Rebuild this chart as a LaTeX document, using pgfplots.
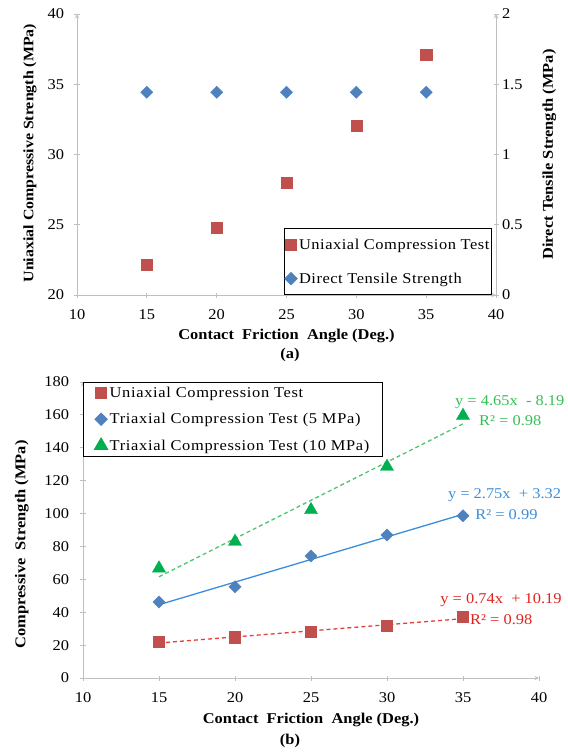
\documentclass[border=0pt]{standalone}
\usepackage{pgfplots}
\pgfplotsset{compat=1.18}
\usepackage{fontspec}
\setmainfont{Liberation Serif}[FakeStretch=1.1]
\newfontfamily\legfont{Liberation Serif}[FakeStretch=1.1, LetterSpace=3.5]
\newfontfamily\legfontb{Liberation Serif}[FakeStretch=1.1, LetterSpace=4.5]

\definecolor{mred}{HTML}{C0504D}
\definecolor{mblue}{HTML}{4F81BD}
\definecolor{mgreen}{HTML}{00B050}
\definecolor{lred}{HTML}{E0413A}
\definecolor{lblue}{HTML}{3A8DDE}
\definecolor{lgreen}{HTML}{4DC46E}
\definecolor{tred}{HTML}{E0231C}
\definecolor{tblue}{HTML}{3C8FDB}
\definecolor{tgreen}{HTML}{35BE57}
\definecolor{axgray}{HTML}{BFBFBF}

\newcommand{\fs}{\fontsize{15}{17}\selectfont}

\pgfplotsset{
  excel/.style={
    scale only axis,
    axis line style={draw=axgray, line width=1bp, -},
    tick align=outside,
    major tick length=5bp,
    tick style={draw=axgray, line width=1bp},
    tick label style={font=\fs},
    xticklabel style={yshift=-9bp},
    label style={font=\bfseries\fs},
    /pgf/number format/assume math mode=true,
    clip=false,
    legend cell align=left,
    legend image code/.code={\draw[#1] plot coordinates {(0.12cm,0cm)};},
  },
  sqred/.style={only marks, mark=square*, mark size=5.6bp, color=mred},
  dmblue/.style={only marks, mark=square*, mark size=4.3bp, mark options={rotate=45}, color=mblue},
  trgreen/.style={only marks, mark=triangle*, mark size=7.6bp, color=mgreen},
}

\begin{document}
\begin{tikzpicture}
\path[use as bounding box] (0,0) rectangle (568bp,-755bp);

% ---------------- (a) ----------------
\begin{axis}[excel,
  at={(77bp,-295bp)}, anchor=south west,
  width=419bp, height=281bp,
  axis x line=bottom, axis y line=left,
  yticklabel style={xshift=-7bp},
  xmin=10, xmax=40, xtick={10,15,...,40},
  ymin=20, ymax=40, ytick={20,25,...,40},
  xlabel={Contact\ \ Friction\ \ Angle (Deg.)},
  ylabel={Uniaxial Compressive Strength (MPa)},
  xlabel style={at={(axis description cs:0.5,-0.146)}, anchor=center},
  ylabel style={at={(axis description cs:-0.112,0.505)}, anchor=center, font=\bfseries\fontsize{14.5}{16}\selectfont},
]
\addplot[sqred] coordinates {(15,22.14) (20,24.8) (25,27.97) (30,32.03) (35,37.08)};
\end{axis}

\begin{axis}[excel,
  at={(77bp,-295bp)}, anchor=south west,
  width=419bp, height=281bp,
  axis x line=none, axis y line=right,
  xmin=10, xmax=40,
  ymin=0, ymax=2, ytick={0,0.5,1,1.5,2},
  ylabel={Direct Tensile Strength (MPa)},
  ylabel style={at={(axis description cs:1.127,0.5)}, anchor=center, font=\bfseries\fs},
  legend style={at={(0.99,0)}, anchor=south east, draw=black, line width=1bp,
    font=\legfont\fs, inner xsep=0bp, inner ysep=8bp, row sep=18bp},
]
\addlegendimage{sqred}
\addlegendentry{Uniaxial Compression Test}
\addplot[dmblue] coordinates {(15,1.443) (20,1.443) (25,1.443) (30,1.443) (35,1.443)};
\addlegendentry{Direct Tensile Strength}
\end{axis}

\node[font=\bfseries\fs] at (290bp,-355bp) {(a)};

% ---------------- (b) ----------------
\begin{axis}[excel,
  at={(83bp,-678bp)}, anchor=south west,
  width=456bp, height=296bp,
  axis x line=bottom, axis y line=left,
  yticklabel style={xshift=-8bp},
  xmin=10, xmax=40, xtick={10,15,...,40},
  ymin=0, ymax=180, ytick={0,20,...,180},
  xlabel={Contact\ \ Friction\ \ Angle (Deg.)},
  ylabel={Compressive\ \ Strength (MPa)},
  xlabel style={at={(axis description cs:0.5,-0.142)}, anchor=center},
  ylabel style={at={(axis description cs:-0.134,0.451)}, anchor=center},
  legend style={at={(0,1)}, anchor=north west, draw=black, line width=1bp,
    font=\legfontb\fs, inner xsep=11bp, inner ysep=2.5bp, row sep=10.5bp},
]
\addplot[sqred] coordinates {(15,22.14) (20,24.8) (25,27.97) (30,32.03) (35,37.08)};
\addlegendentry{Uniaxial Compression Test}
\addplot[dmblue] coordinates {(15,46.2) (20,55.5) (25,74.2) (30,87.0) (35,98.7)};
\addlegendentry{Triaxial Compression Test (5 MPa)}
\addplot[trgreen] coordinates {(15,66.7) (20,82.9) (25,102.2) (30,128.5) (35,159.5)};
\addlegendentry{Triaxial Compression Test (10 MPa)}

% trend lines
\addplot[forget plot, lred, line width=1.3bp, dash pattern=on 4bp off 3bp] coordinates {(15,21.29) (35,36.09)};
\addplot[forget plot, lblue, line width=1.3bp] coordinates {(15,44.57) (35,99.57)};
\addplot[forget plot, lgreen, line width=1.3bp, dash pattern=on 4bp off 3bp] coordinates {(15,61.56) (35,154.56)};

\node[anchor=west, text=tgreen, font=\fs, inner sep=0pt] at (axis cs:34.47,167.8) {y = 4.65x\ \ - 8.19};
\node[anchor=west, text=tgreen, font=\fs, inner sep=0pt] at (axis cs:36.05,156.3) {R² = 0.98};
\node[anchor=west, text=tblue, font=\fs, inner sep=0pt] at (axis cs:34.0,111.3) {y = 2.75x\ \ + 3.32};
\node[anchor=west, text=tblue, font=\fs, inner sep=0pt] at (axis cs:35.8,99.1) {R² = 0.99};
\node[anchor=west, text=tred, font=\fs, inner sep=0pt] at (axis cs:33.5,47.4) {y = 0.74x\ \ + 10.19};
\node[anchor=west, text=tred, font=\fs, inner sep=0pt] at (axis cs:35.46,35.3) {R² = 0.98};
\end{axis}

\node[font=\bfseries\fs] at (290bp,-741bp) {(b)};
\end{tikzpicture}
\end{document}
